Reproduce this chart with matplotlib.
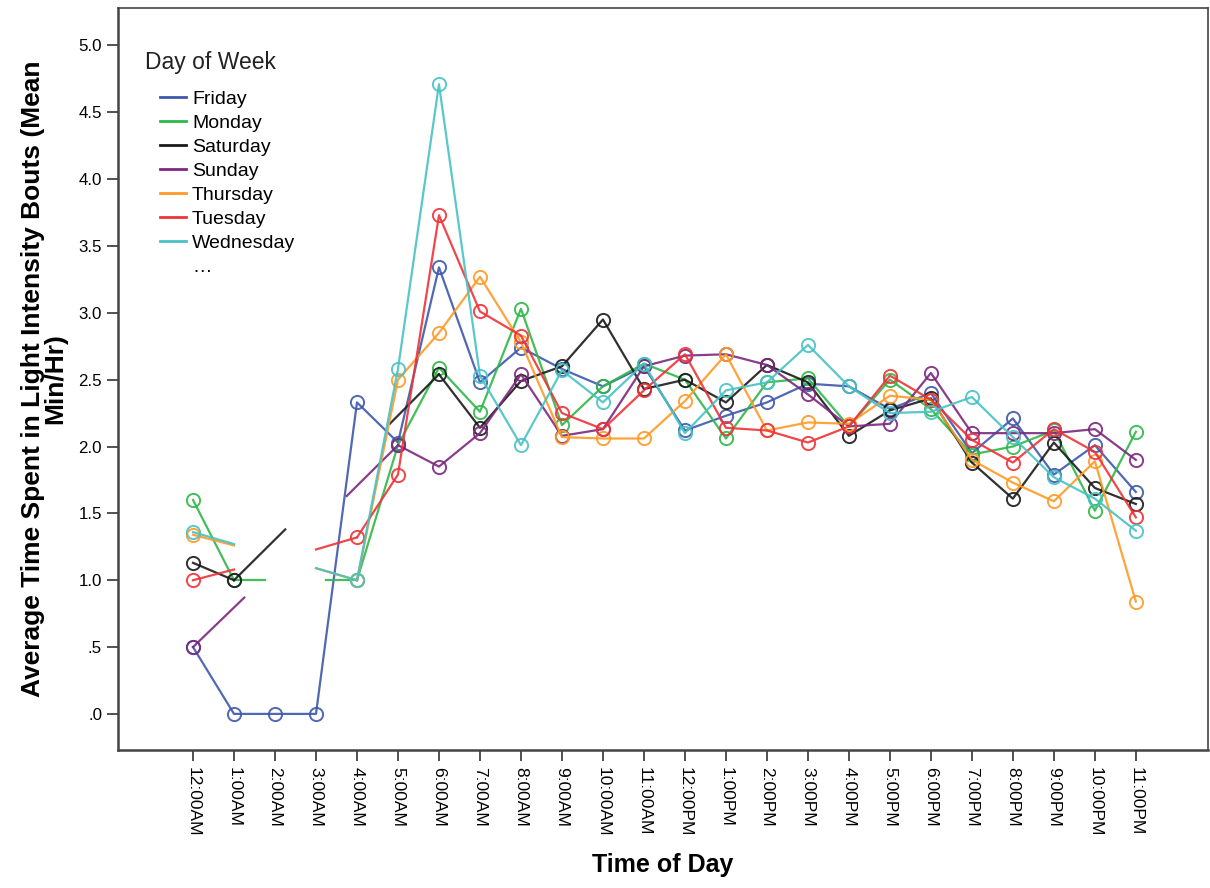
import numpy as np
import matplotlib
matplotlib.use("Agg")
import matplotlib.pyplot as plt
from matplotlib.lines import Line2D

nan = np.nan

hours = ["12:00AM", "1:00AM", "2:00AM", "3:00AM", "4:00AM", "5:00AM", "6:00AM",
         "7:00AM", "8:00AM", "9:00AM", "10:00AM", "11:00AM", "12:00PM", "1:00PM",
         "2:00PM", "3:00PM", "4:00PM", "5:00PM", "6:00PM", "7:00PM", "8:00PM",
         "9:00PM", "10:00PM", "11:00PM"]

days = ["Friday", "Monday", "Saturday", "Sunday", "Thursday", "Tuesday", "Wednesday"]

friday = [0.50, 0.00, 0.00, 0.00, 2.33, 2.03, 3.34, 2.48, 2.74, 2.58, 2.45, 2.60,
          2.12, 2.23, 2.33, 2.47, 2.45, 2.28, 2.40, 1.95, 2.21, 1.79, 2.01, 1.66]
monday = [1.60, 1.00, nan, nan, 1.00, 2.01, 2.59, 2.26, 3.03, 2.16, 2.45, 2.62,
          2.50, 2.06, 2.48, 2.51, 2.15, 2.50, 2.28, 1.94, 2.00, 2.12, 1.52, 2.11]
saturday = [1.13, 1.00, nan, nan, nan, nan, 2.54, 2.14, 2.49, 2.60, 2.95, 2.43,
            2.50, 2.33, 2.61, 2.48, 2.08, 2.27, 2.36, 1.88, 1.61, 2.03, 1.69, 1.57]
sunday = [0.50, nan, nan, nan, nan, 2.01, 1.85, 2.10, 2.54, 2.08, 2.13, 2.60,
          2.68, 2.69, 2.61, 2.39, 2.15, 2.17, 2.55, 2.10, 2.10, 2.10, 2.13, 1.90]
thursday = [1.34, nan, nan, nan, 1.00, 2.50, 2.85, 3.27, 2.78, 2.07, 2.06, 2.06,
            2.34, 2.69, 2.12, 2.18, 2.17, 2.38, 2.35, 1.90, 1.73, 1.59, 1.89, 0.84]
tuesday = [1.00, nan, nan, nan, 1.32, 1.79, 3.73, 3.01, 2.83, 2.25, 2.13, 2.42,
           2.69, 2.14, 2.12, 2.03, 2.15, 2.53, 2.35, 2.05, 1.88, 2.13, 1.96, 1.47]
wednesday = [1.36, nan, nan, nan, 1.00, 2.58, 4.71, 2.53, 2.01, 2.57, 2.33, 2.62,
             2.10, 2.42, 2.48, 2.76, 2.45, 2.25, 2.26, 2.37, 2.07, 1.77, 1.61, 1.37]

# partial connecting segments drawn next to missing hours: (x0, y0, x1, y1) in hour index units
stubs_monday = [(1, 1.00, 1.75, 1.00), (3.25, 1.00, 4, 1.00)]
stubs_saturday = [(1, 1.00, 2.25, 1.38), (4.8, 2.17, 6, 2.54)]
stubs_sunday = [(0, 0.50, 1.25, 0.87), (3.75, 1.63, 5, 2.01)]
stubs_thursday = [(0, 1.34, 1, 1.26), (3, 1.09, 4, 1.00)]
stubs_tuesday = [(0, 1.00, 1, 1.08), (3, 1.23, 4, 1.32)]
stubs_wednesday = [(0, 1.36, 1, 1.27), (3, 1.09, 4, 1.00)]
stubs_friday = []

colors = ["#3E58AC", "#2EB848", "#1a1a1a", "#7C287D", "#FF9A26", "#EF3338", "#48C2C5"]

series = [friday, monday, saturday, sunday, thursday, tuesday, wednesday]
stubs = [stubs_friday, stubs_monday, stubs_saturday, stubs_sunday,
         stubs_thursday, stubs_tuesday, stubs_wednesday]

yticks = [0.0, 0.5, 1.0, 1.5, 2.0, 2.5, 3.0, 3.5, 4.0, 4.5, 5.0]
ytick_labels = [".0", ".5", "1.0", "1.5", "2.0", "2.5", "3.0", "3.5", "4.0", "4.5", "5.0"]

plt.rcParams['font.family'] = ['Liberation Sans', 'DejaVu Sans']

W, H = 1210, 888
fig = plt.figure(figsize=(W / 100, H / 100), dpi=100)
L, R, T, B = 118, 1208, 8, 750
ax = fig.add_axes([L / W, (H - B) / H, (R - L) / W, (B - T) / H])

x = np.arange(len(hours))
for vals, st, c, name in zip(series, stubs, colors, days):
    ax.plot(x, vals, color=c, lw=1.6, marker='o', ms=9.5, mfc='none', mec=c, mew=1.4,
            label=name, alpha=0.9)
    for (x0, y0, x1, y1) in st:
        ax.plot([x0, x1], [y0, y1], color=c, lw=1.6, alpha=0.9)

ax.set_xlim(-1.83, 24.76)
ax.set_ylim(-0.27, 5.28)
ax.set_xticks(x)
ax.set_xticklabels(hours, rotation=-90, fontsize=12.5)
ax.set_yticks(yticks)
ax.set_yticklabels(ytick_labels, fontsize=12.2)
ax.tick_params(axis='both', direction='out', length=8, width=1.2, color='#333333')
ax.tick_params(axis='x', pad=4)
for s in ax.spines.values():
    s.set_color('#444444')
    s.set_linewidth(1.2)
ax.spines['left'].set_linewidth(1.8)
ax.spines['bottom'].set_linewidth(1.8)

ax.set_xlabel("Time of Day", fontsize=18, fontweight='bold', labelpad=12)
ax.set_ylabel("Average Time Spent in Light Intensity Bouts (Mean\nMin/Hr)", fontsize=19,
              fontweight='bold', labelpad=8, linespacing=0.92)

# legend title and entries
ax.text((145 - L) / (R - L), (B - 62) / (B - T), "Day of Week", transform=ax.transAxes,
        fontsize=16.5, ha='left', va='center', color='#222222')
handles = [Line2D([], [], color=c, lw=2) for c in colors]
labels = list(days)
handles.append(Line2D([], [], color='none'))
labels.append("\u2026")
leg = ax.legend(handles, labels, loc='upper left',
                bbox_to_anchor=((160 - L) / (R - L), (B - 90) / (B - T)), frameon=False,
                fontsize=14, handlelength=1.35, handletextpad=0.3,
                labelspacing=0.33, borderpad=0.0, borderaxespad=0.0)

fig.savefig("out.png", dpi=100)
